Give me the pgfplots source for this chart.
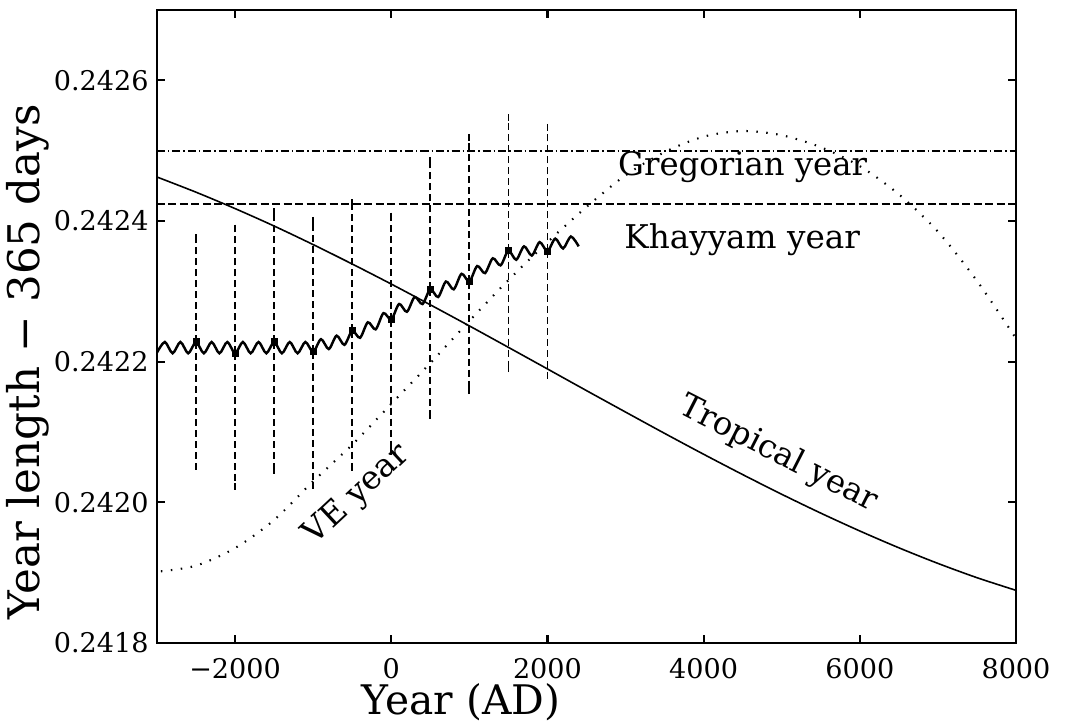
\documentclass[border=0pt]{standalone}
\usepackage{fontspec}
\setmainfont{DejaVu Serif}
\usepackage{pgfplots}
\usepackage{pgfplotstable}
\pgfplotsset{compat=1.18}

% tropical year (solid)
\pgfplotstableread{
x y
-3000 0.2424626
-2500 0.2424410
-2000 0.2424177
-1500 0.2423929
-1000 0.2423665
-500 0.2423389
0 0.2423104
500 0.2422809
1000 0.2422509
1500 0.2422204
2000 0.2421897
2500 0.2421589
3000 0.2421284
3500 0.2420981
4000 0.2420684
4500 0.2420395
5000 0.2420115
5500 0.2419847
6000 0.2419593
6500 0.2419354
7000 0.2419132
7500 0.2418929
8000 0.2418749
}\tropical

% VE year (dotted)
\pgfplotstableread{
x y
-2950 0.241902
-2500 0.241910
-2000 0.241935
-1500 0.241975
-1000 0.242030
-500 0.242082
0 0.242140
500 0.242198
1000 0.242258
1500 0.242316
2000 0.242370
2500 0.242420
3000 0.242465
3500 0.242498
4000 0.242520
4500 0.242528
5000 0.242522
5500 0.242505
6000 0.242478
6500 0.242438
7000 0.242385
7500 0.242315
8000 0.242233
}\vernal

% wavy curve
\pgfplotstableread{
x y
-3000 0.242213
-2900 0.242228
-2800 0.242212
-2700 0.242228
-2600 0.242212
-2500 0.242228
-2400 0.242212
-2300 0.242228
-2200 0.242212
-2100 0.242228
-2000 0.242212
-1900 0.242228
-1800 0.242212
-1700 0.242228
-1600 0.242212
-1500 0.242228
-1400 0.242212
-1300 0.242228
-1200 0.242212
-1100 0.242228
-1000 0.242214
-900 0.242232
-800 0.242218
-700 0.242237
-600 0.242224
-500 0.242244
-400 0.242234
-300 0.242256
-200 0.242246
-100 0.242269
0 0.242260
100 0.242282
200 0.242271
300 0.242292
400 0.242282
500 0.242303
600 0.242292
700 0.242314
800 0.242303
900 0.242325
1000 0.242314
1100 0.242336
1200 0.242326
1300 0.242347
1400 0.242337
1500 0.242358
1600 0.242345
1700 0.242364
1800 0.242351
1900 0.242370
2000 0.242357
2100 0.242375
2200 0.242361
2300 0.242378
2400 0.242364
}\wave

% points with error bars: centre, top, bottom
\pgfplotstableread{
x y top bot
-2500 0.242228 0.242376 0.242051
-2000 0.242212 0.242390 0.242023
-1500 0.242228 0.242413 0.242046
-1000 0.242214 0.242401 0.242024
-500 0.242244 0.242426 0.242050
0 0.242260 0.242407 0.242073
500 0.242303 0.242486 0.242124
1000 0.242314 0.242519 0.242159
1500 0.242358 0.242547 0.242190
2000 0.242357 0.242533 0.242181
}\points

\begin{document}
\begin{tikzpicture}
\useasboundingbox (-15.7mm,-8.1mm) rectangle (90.9mm,64.3mm);
\begin{axis}[scale only axis,width=85.9mm,height=63.3mm,
  xmin=-3000,xmax=8000,ymin=0.2418,ymax=0.24270,
  axis line style={line width=0.7pt},
  tick align=inside,major tick length=0.8mm,tick style={line width=0.6pt,black},
  xtick={-2000,0,2000,4000,6000,8000},
  xticklabels={−2000,0,2000,4000,6000,8000},
  ytick={0.2418,0.2420,0.2422,0.2424,0.2426},
  yticklabels={0.2418,0.2420,0.2422,0.2424,0.2426},
  ticklabel style={font=\fontsize{7.7}{9}\selectfont},
  xticklabel style={yshift=-0.3mm},
  yticklabel style={xshift=0.4mm},
  xlabel={Year (AD)},
  xlabel style={at={(axis description cs:0.354,-0.094)},anchor=center,font=\fontsize{11.6}{13}\selectfont},
  ylabel={Year length − 365 days},
  ylabel style={at={(axis description cs:-0.150,0.444)},anchor=center,font=\fontsize{12.4}{14}\selectfont},
  clip=true]
\addplot[black,line width=0.45pt,smooth] table {\tropical};
\addplot[black,line width=0.6pt,dash pattern=on 0.15mm off 0.85mm,smooth] table {\vernal};
\addplot[black,line width=0.45pt,dash pattern=on 0.8mm off 0.3mm on 0.15mm off 0.3mm] coordinates {(-3000,0.2425) (8000,0.2425)};
\addplot[black,line width=0.45pt,dash pattern=on 0.8mm off 0.35mm] coordinates {(-3000,0.24242424) (8000,0.24242424)};
\addplot[black,line width=0.7pt,smooth,tension=0.5] table {\wave};
\addplot[black,only marks,mark=square*,mark size=0.8pt,
  error bars/.cd,y dir=both,y explicit,
  error bar style={line width=0.5pt,dash pattern=on 0.7mm off 0.4mm},
  error mark options={line width=0.5pt,mark size=1pt}]
  table[x=x,y=y,y error plus expr=\thisrow{top}-\thisrow{y},y error minus expr=\thisrow{y}-\thisrow{bot}] {\points};
\node[font=\fontsize{9.2}{10}\selectfont] at (axis cs:4500,0.242476) {Gregorian year};
\node[font=\fontsize{9.3}{10}\selectfont] at (axis cs:4494,0.242373) {Khayyam year};
\node[font=\fontsize{9.3}{10}\selectfont,rotate=43] at (axis cs:-437,0.242010) {VE year};
\node[font=\fontsize{9.2}{10}\selectfont,rotate=-27] at (axis cs:4957,0.242068) {Tropical year};
\end{axis}
\end{tikzpicture}
\end{document}
